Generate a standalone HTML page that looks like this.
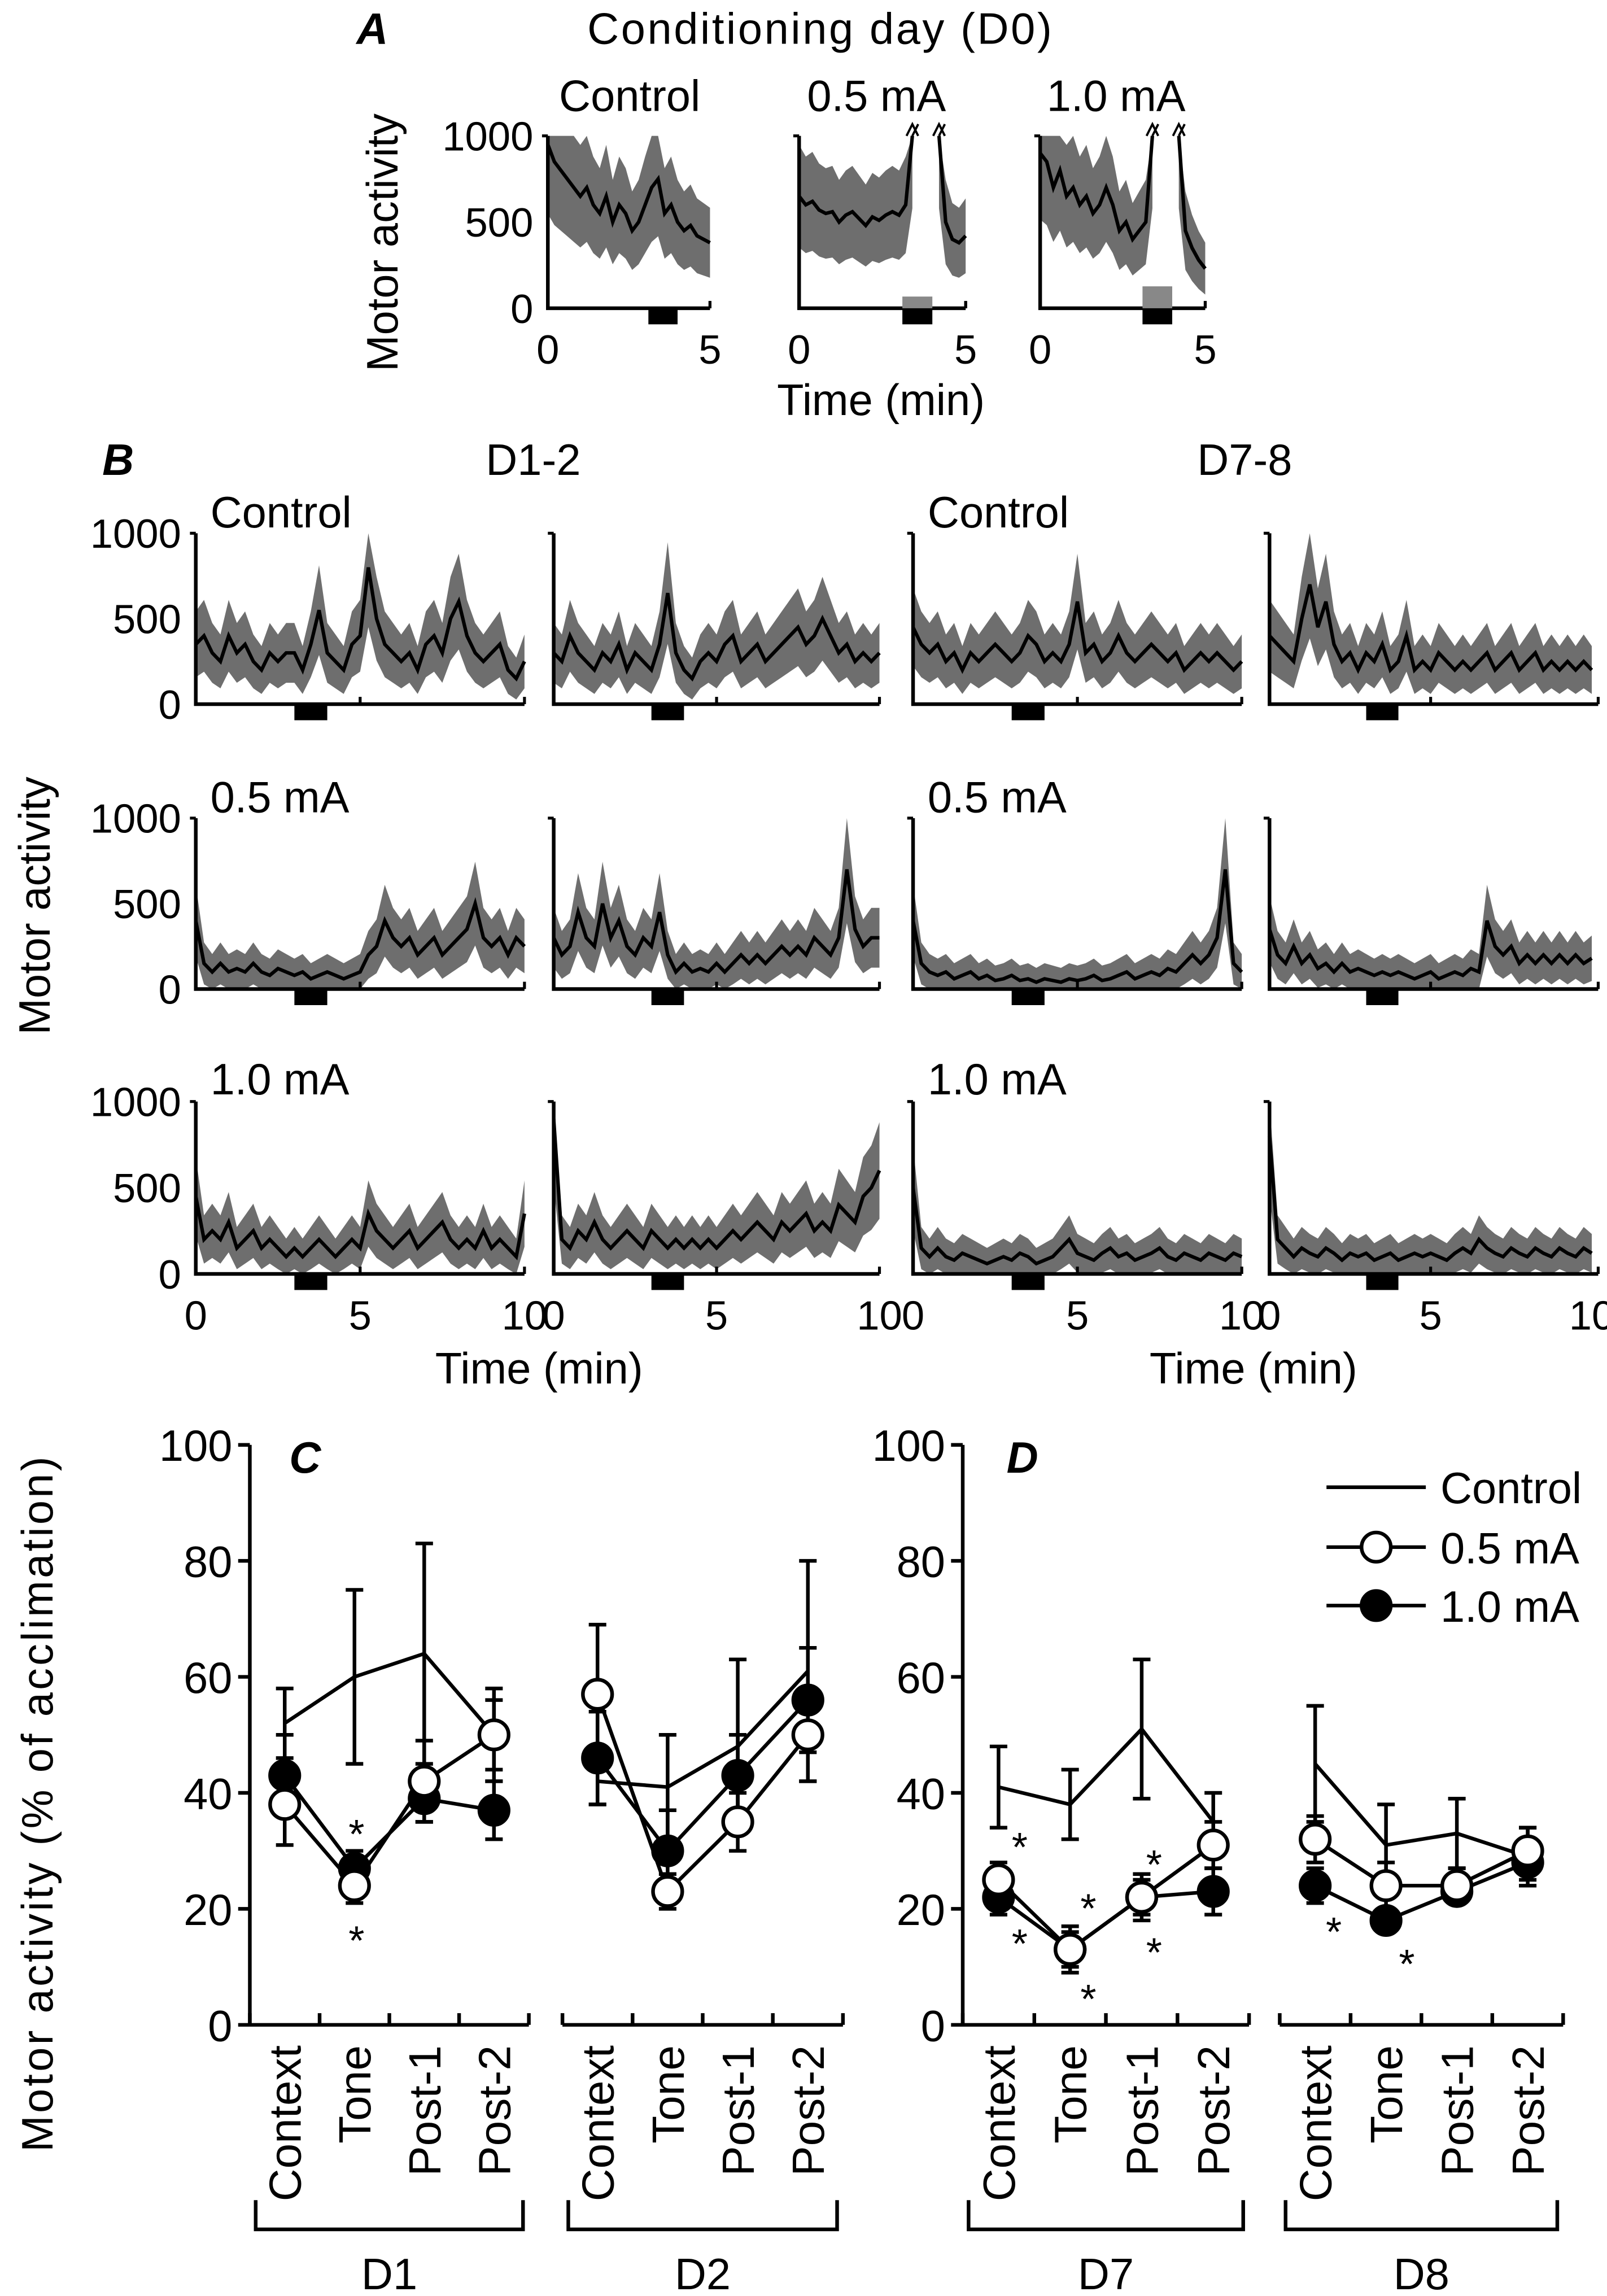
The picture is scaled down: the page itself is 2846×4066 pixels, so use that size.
<!DOCTYPE html>
<html><head><meta charset="utf-8"><style>
html,body{margin:0;padding:0;background:#fff}
svg{display:block}
text{font-family:"Liberation Sans",sans-serif;fill:#000}
</style></head><body>
<svg id="fig" width="2846" height="4066" viewBox="0 0 1100 1571.6" xmlns="http://www.w3.org/2000/svg">
<g id="static" font-size="30">
<text x="244" y="30" font-style="italic" font-weight="bold">A</text>
<text x="561" y="30" text-anchor="middle" textLength="318">Conditioning day (D0)</text>
<text x="431" y="76" text-anchor="middle">Control</text>
<text x="600" y="76" text-anchor="middle">0.5 mA</text>
<text x="764" y="76" text-anchor="middle">1.0 mA</text>
<text transform="translate(272,166) rotate(-90)" text-anchor="middle">Motor activity</text>
<text x="603" y="284" text-anchor="middle">Time (min)</text>
<text x="70" y="325" font-style="italic" font-weight="bold">B</text>
<text x="365" y="325" text-anchor="middle">D1-2</text>
<text x="852" y="325" text-anchor="middle">D7-8</text>
<text transform="translate(34,620) rotate(-90)" text-anchor="middle">Motor activity</text>
<text x="369" y="947" text-anchor="middle">Time (min)</text>
<text x="858" y="947" text-anchor="middle">Time (min)</text>
<text x="198" y="1008" font-style="italic" font-weight="bold">C</text>
<text x="689" y="1008" font-style="italic" font-weight="bold">D</text>
<text transform="translate(36,1235) rotate(-90)" text-anchor="middle" textLength="476">Motor activity  (% of acclimation)</text>
<g>
<line x1="908" y1="1018" x2="976" y2="1018" stroke="#000" stroke-width="2.5"/>
<text x="986" y="1029">Control</text>
<line x1="908" y1="1059" x2="976" y2="1059" stroke="#000" stroke-width="2.5"/>
<circle cx="942" cy="1059" r="10" fill="#fff" stroke="#000" stroke-width="2.5"/>
<text x="986" y="1070">0.5 mA</text>
<line x1="908" y1="1099" x2="976" y2="1099" stroke="#000" stroke-width="2.5"/>
<circle cx="942" cy="1099" r="10" fill="#000" stroke="#000" stroke-width="2.5"/>
<text x="986" y="1110">1.0 mA</text>
</g>
</g>
<g id="dyn"></g>
</svg>
<script>
// ---------- Panel A data (values every 0.2 min, null = off-scale gap) ----------
const aControl = [950,850,800,750,700,650,700,600,550,650,500,600,550,450,500,600,700,750,550,600,500,450,480,420,400,380];
const a05 = [650,600,620,570,550,560,500,540,560,520,480,530,510,540,560,540,600,1000,null,null,null,1000,500,400,380,420];
const a10 = [900,850,700,800,650,700,600,650,550,600,700,600,450,500,400,450,500,1000,null,null,null,1000,450,350,280,230];
// ---------- Panel B data (values every 0.25 min) ----------
const bC_D1 = [350,400,300,250,400,300,350,250,200,300,250,300,300,200,350,550,300,250,200,350,400,800,500,350,300,250,300,200,350,400,300,500,600,400,300,250,300,350,200,150,250];
const bC_D2 = [300,250,400,300,250,200,300,250,350,200,300,250,200,350,650,300,200,150,250,300,250,350,400,250,300,350,250,300,350,400,450,350,400,500,400,300,350,250,300,250,300];
const bC_D7 = [450,350,300,350,250,300,200,300,250,300,350,300,250,300,400,350,250,300,250,350,600,300,350,250,300,400,300,250,300,350,300,250,300,200,250,300,250,300,250,200,250];
const bC_D8 = [400,350,300,250,500,700,450,600,350,250,300,200,300,250,350,200,250,400,200,250,200,300,250,200,250,200,250,300,200,250,300,200,250,300,200,250,200,250,200,250,200];
const b05_D1 = [400,150,100,150,100,120,100,150,100,80,120,100,80,100,60,80,100,80,60,80,100,200,250,400,300,250,300,200,250,300,200,250,300,350,500,300,250,300,200,300,250];
const b05_D2 = [300,200,250,450,300,250,500,300,400,250,200,300,250,450,200,100,150,100,120,100,150,100,150,200,150,200,150,200,250,200,250,200,300,250,200,300,700,350,250,300,300];
const b05_D7 = [400,150,100,80,100,60,80,100,60,80,50,60,80,50,60,40,60,50,40,60,50,60,80,50,60,80,100,60,80,100,80,120,100,150,200,150,200,300,700,150,100];
const b05_D8 = [350,200,150,250,150,200,120,150,100,150,100,120,100,80,100,80,100,80,60,80,100,60,80,100,80,120,100,400,250,200,250,150,200,150,200,150,200,150,200,150,180];
const b10_D1 = [450,200,250,200,300,150,200,250,150,200,150,100,150,100,150,200,150,100,150,200,150,350,250,200,150,200,250,150,200,250,300,200,150,200,150,250,150,200,150,100,350];
const b10_D2 = [900,200,150,250,200,300,200,150,200,250,200,150,250,200,150,200,150,200,150,200,150,200,250,200,250,300,250,200,300,250,300,350,250,300,250,400,350,300,450,500,600];
const b10_D7 = [500,150,100,150,100,80,120,100,80,60,80,100,80,120,100,60,80,100,150,200,120,100,80,120,150,100,120,80,100,120,150,100,80,120,100,80,120,100,80,120,100];
const b10_D8 = [800,200,150,100,150,120,100,150,120,80,120,100,120,80,100,120,80,100,120,100,120,100,80,120,150,120,200,150,120,100,150,120,100,150,120,100,150,120,100,150,120];
// ---------- Panels C/D data ----------
const categories = ["Context","Tone","Post-1","Post-2"];
const yTicks = [0,20,40,60,80,100];
const ctrlD1 = [52,60,64,50];   const ctrlD1err = [6,15,19,8];
const m05D1 = [38,24,42,50];    const m05D1err = [7,3,7,6];
const m10D1 = [43,27,39,37];    const m10D1err = [7,3,4,5];
const ctrlD2 = [42,41,48,61];   const ctrlD2err = [4,9,15,19];
const m05D2 = [57,23,35,50];    const m05D2err = [12,3,5,8];
const m10D2 = [46,30,43,56];    const m10D2err = [8,7,7,9];
const ctrlD7 = [41,38,51,35];   const ctrlD7err = [7,6,12,5];
const m05D7 = [25,13,22,31];    const m05D7err = [3,4,4,4];
const m10D7 = [22,13,22,23];    const m10D7err = [3,3,3,4];
const ctrlD8 = [45,31,33,29];   const ctrlD8err = [10,7,6,5];
const m05D8 = [32,24,24,30];    const m05D8err = [4,4,3,4];
const m10D8 = [24,18,23,28];    const m10D8err = [3,2,2,3];

const NS="http://www.w3.org/2000/svg";
const dyn=document.getElementById('dyn');
function mk(tag,attrs,parent){const e=document.createElementNS(NS,tag);for(const k in attrs)e.setAttribute(k,attrs[k]);(parent||dyn).appendChild(e);return e;}
function txt(x,y,s,attrs,parent){const t=mk('text',Object.assign({x:x,y:y},attrs||{}),parent);t.textContent=s;return t;}

function drawTrace(name,vals,dt,x0,x1,tmax,y0,y1){
  const g=mk('g',{});
  
  
  const xs=t=>x0+(x1-x0)*t/tmax, ys=v=>y0-(y0-y1)*Math.min(v,1000)/1000;
  let segs=[],cur=[];
  vals.forEach((v,i)=>{if(v===null){if(cur.length)segs.push(cur);cur=[];}else cur.push([i*dt,v]);});
  if(cur.length)segs.push(cur);
  segs.forEach(seg=>{
    let up=seg.map(p=>xs(p[0])+','+ys(p[1]*1.35+70)), lo=seg.slice().reverse().map(p=>xs(p[0])+','+ys(Math.max(0,p[1]*0.65-70)));
    mk('polygon',{points:up.concat(lo).join(' '),fill:'#6e6e6e',stroke:'none'},g);
    mk('polyline',{points:seg.map(p=>xs(p[0])+','+ys(p[1])).join(' '),fill:'none',stroke:'#000','stroke-width':2.4},g);
  });
}
function axesTrace(name,x0,x1,y0,y1,tmax,showY,showX,barT,grayH){
  const g=mk('g',{});
  
  
  const xs=t=>x0+(x1-x0)*t/tmax;
  mk('path',{d:`M${x0},${y1} V${y0} H${x1}`,fill:'none',stroke:'#000','stroke-width':2.5},g);
  mk('line',{x1:x0-4,y1:y1,x2:x0,y2:y1,stroke:'#000','stroke-width':2},g);
  mk('line',{x1:xs(5),y1:y0,x2:xs(5),y2:y0-5,stroke:'#000','stroke-width':2},g);
  mk('line',{x1:x1,y1:y0,x2:x1,y2:y0-5,stroke:'#000','stroke-width':2},g);
  mk('rect',{x:xs(barT[0]),y:y0+1,width:xs(barT[1])-xs(barT[0]),height:10,fill:'#000'},g);
  if(grayH) mk('rect',{x:xs(barT[0]),y:y0-grayH,width:xs(barT[1])-xs(barT[0]),height:grayH,fill:'#888'},g);
  if(showY){
    [[0,y0],[500,(y0+y1)/2],[1000,y1]].forEach(p=>{txt(x0-10,p[1]+10,String(p[0]),{'font-size':28,'text-anchor':'end'},g);});
  }
  if(showX){
    const ticks=tmax>5?[0,5,10]:[0,5];
    ticks.forEach(t=>txt(xs(t),y0+38,String(t),{'font-size':28,'text-anchor':'middle'},g));
  }
}
// Panel A
const aPanels=[[375,486,aControl,0,'control'],[547,661,a05,8,'05ma'],[712,825,a10,15,'10ma']];
aPanels.forEach((p,i)=>{
  drawTrace('panel-a-trace-'+p[4],p[2],0.2,p[0],p[1],5,211,93);
  axesTrace('panel-a-axes-'+p[4],p[0],p[1],211,93,5,i===0,true,[3.1,4.0],p[3]);
  if(p[3]){
    [3.4,4.2].forEach(t=>{const x=p[0]+(p[1]-p[0])*t/5;
      const m=mk('path',{d:`M${x-4},${93} l4,-8 l4,8 M${x},${93} l4,-8`,fill:'none',stroke:'#000','stroke-width':1.5});
      
      });
  }
});
// Panel B
const bCols=[[134,359],[379,602],[625,850],[869,1094]];
const bRows=[[482,365],[677,560],[872,754]];
const bData=[[bC_D1,bC_D2,bC_D7,bC_D8],[b05_D1,b05_D2,b05_D7,b05_D8],[b10_D1,b10_D2,b10_D7,b10_D8]];
const rowNames=['control','05ma','10ma'], colNames=['d1','d2','d7','d8'];
bRows.forEach((r,ri)=>bCols.forEach((c,ci)=>{
  const tmax=ci===3?10.2:10;
  drawTrace('panel-b-trace-'+rowNames[ri]+'-'+colNames[ci],bData[ri][ci],0.25,c[0],c[1],tmax,r[0],r[1]);
  axesTrace('panel-b-axes-'+rowNames[ri]+'-'+colNames[ci],c[0],c[1],r[0],r[1],tmax,ci===0,ri===2,[3,4],0);
}));
[['Control',361],['0.5 mA',556],['1.0 mA',749]].forEach((l)=>{
  [144,635].forEach((x)=>{const t=txt(x,l[1],l[0],{'font-size':30});
    
    });
});
// Panels C/D
const Y0=1386, Y100=989;
const yS=v=>Y0-(Y0-Y100)*v/100;
function drawYAxis(name,x){
  const g=mk('g',{});
  
  
  mk('line',{x1:x,y1:Y100,x2:x,y2:Y0,stroke:'#000','stroke-width':2.5},g);
  yTicks.forEach(v=>{mk('line',{x1:x-8,y1:yS(v),x2:x,y2:yS(v),stroke:'#000','stroke-width':2.5},g);
    txt(x-12,yS(v)+11,String(v),{'font-size':30,'text-anchor':'end'},g);});
}
drawYAxis('panel-c-y-axis',171); drawYAxis('panel-d-y-axis',659);
function drawGroup(name,dayLabel,gx0,gx1,series){
  const g=mk('g',{});
  
  
  const step=(gx1-gx0)/4;
  const xC=i=>gx0+step*(i+0.5);
  mk('line',{x1:gx0,y1:Y0,x2:gx1,y2:Y0,stroke:'#000','stroke-width':2.5},g);
  for(let i=0;i<=4;i++) mk('line',{x1:gx0+step*i,y1:Y0,x2:gx0+step*i,y2:Y0-8,stroke:'#000','stroke-width':2.5},g);
  categories.forEach((c,i)=>txt(0,0,c,{'font-size':31,'text-anchor':'end',transform:`translate(${xC(i)+11},${Y0+14}) rotate(-90)`},g));
  mk('path',{d:`M${gx0+4},${1506} V${1526} H${gx1-4} V${1506}`,fill:'none',stroke:'#000','stroke-width':2.5},g);
  txt((gx0+gx1)/2,1567,dayLabel,{'font-size':30,'text-anchor':'middle'},g);
  series.forEach(s=>{
    const sg=mk('g',{},g);
    
    
    s.vals.forEach((v,i)=>{const x=xC(i);
      mk('line',{x1:x,y1:yS(v-s.err[i]),x2:x,y2:yS(v+s.err[i]),stroke:'#000','stroke-width':2.5},sg);
      [v-s.err[i],v+s.err[i]].forEach(e=>mk('line',{x1:x-6,y1:yS(e),x2:x+6,y2:yS(e),stroke:'#000','stroke-width':2.5},sg));});
    mk('polyline',{points:s.vals.map((v,i)=>xC(i)+','+yS(v)).join(' '),fill:'none',stroke:'#000','stroke-width':2.5},sg);
    if(s.marker) s.vals.forEach((v,i)=>mk('circle',{cx:xC(i),cy:yS(v),r:10,fill:s.marker,stroke:'#000','stroke-width':2.5},sg));
  });
}
const sets=[
 ['panel-c-d1','D1',171,362,[ctrlD1,ctrlD1err],[m05D1,m05D1err],[m10D1,m10D1err]],
 ['panel-c-d2','D2',385,577,[ctrlD2,ctrlD2err],[m05D2,m05D2err],[m10D2,m10D2err]],
 ['panel-d-d7','D7',659,855,[ctrlD7,ctrlD7err],[m05D7,m05D7err],[m10D7,m10D7err]],
 ['panel-d-d8','D8',876,1070,[ctrlD8,ctrlD8err],[m05D8,m05D8err],[m10D8,m10D8err]]];
sets.forEach(s=>drawGroup(s[0],s[1],s[2],s[3],[
  {name:s[0]+'-control',vals:s[4][0],err:s[4][1],marker:null},
  {name:s[0]+'-10ma',vals:s[6][0],err:s[6][1],marker:'#000'},
  {name:s[0]+'-05ma',vals:s[5][0],err:s[5][1],marker:'#fff'}]));
// significance asterisks (centers)
[[244,1249],[244,1322],[698,1258],[698,1324],[745,1300],[745,1362],[790,1270],[790,1330],[913,1316],[963,1338]].forEach(p=>{
  const t=txt(p[0],p[1]+16,'*',{'font-size':28,'text-anchor':'middle'});
  
  
});
</script>
</body></html>
